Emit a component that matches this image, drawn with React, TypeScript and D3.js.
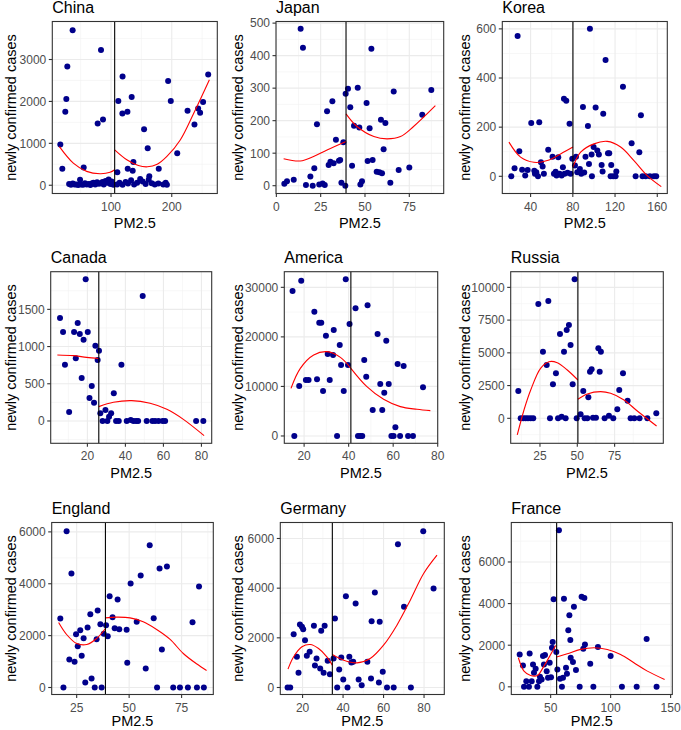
import * as d3 from "d3";

type Pt = [number, number];

const FONT = "'Liberation Sans', Arial, Helvetica, sans-serif";

// China
const chinaPoints: Pt[] = [
  [36.8, 3700], [83.5, 3228], [28, 2833], [26.4, 2060], [24.7, 1752], [16.5, 971], [19.8, 395],
  [78, 1476], [86.8, 1570], [55, 426],
  [31, 30], [34, 10], [37, 40], [40, 15], [43, 20], [46, 5], [49, 130], [51, 20], [54, 10], [57, 45],
  [60, 15], [63, 30], [66, 5], [68, 40], [71, 60], [74, 20], [77, 70], [80, 35], [83, 50], [86, 80],
  [88, 20], [91, 100], [94, 60], [96, 140], [99, 30], [101, 90], [104, 10],
  [110.4, 308], [112, 2013], [119, 2597], [118.7, 1713], [127, 1752], [134, 2107], [136.8, 552],
  [127.5, 395], [135.7, 347], [154.4, 1334], [160.4, 884], [163, 213], [178.6, 395], [194, 2486],
  [198.4, 2013], [209, 766], [226, 1776], [237.4, 1452], [243.4, 1831], [246.7, 1728], [251.6, 1989],
  [260, 2644],
  [110, 20], [114, 60], [119, 10], [124, 80], [128, 40], [133, 120], [138, 20], [143, 60], [148, 150],
  [152, 90], [157, 30], [162, 130], [167, 50], [172, 15], [178, 40], [186, 20], [190, 60], [192, 10],
];
const chinaFitLow: Pt[] = [[15, 923], [37.9, 529], [59.9, 331], [81.9, 276], [98.4, 308], [106, 371]];
const chinaFitHigh: Pt[] = [
  [106, 845], [126, 608], [145, 470], [160, 440], [176, 500], [192, 687], [214, 1081], [236, 1713], [262, 2518],
];
const chinaCut = 106;
const chinaXTicks = [100, 200];
const chinaYTicks = [0, 1000, 2000, 3000];

// Japan
const japanPoints: Pt[] = [
  [4.5, 6], [6, 14], [9.8, 18], [13.7, 483], [15, 424], [16.7, 2], [19.2, 28], [20.5, 0], [21.4, 54],
  [22.9, 189], [24.2, 4], [26.1, 7], [27.3, 2], [28.6, 229], [29.5, 64], [30.5, 74], [31.6, 260],
  [32.3, 69], [33.6, 141], [35.3, 77], [36, 79], [36.7, 9], [37.8, 134], [39.1, 283], [38.9, 0],
  [40.4, 298], [41.7, 241], [42.7, 61], [43.8, 184], [45.9, 301], [46.8, 179], [47.4, 4], [48.3, 14],
  [50.9, 254], [51.5, 76], [52.6, 177], [53.6, 421], [54.3, 79], [56.6, 43], [58.1, 41], [59, 203],
  [59.6, 38], [60.5, 112], [61.5, 193], [64.3, 9], [66.2, 290], [69, 48], [75, 56], [82.3, 218], [87.4, 294],
];
const japanFitLow: Pt[] = [[4.1, 83], [13.5, 76], [21, 90], [28.6, 110], [39.3, 136]];
const japanFitHigh: Pt[] = [[39.3, 221], [45.5, 182], [55, 151], [62.4, 144], [70, 151], [77.4, 182], [89.7, 246]];
const japanCut = 39.3;
const japanXTicks = [0, 25, 50, 75];
const japanYTicks = [0, 100, 200, 300, 400, 500];

// Korea
const koreaPoints: Pt[] = [
  [27.7, 571], [21.7, 0], [24.8, 33], [29.3, 102], [32, 27], [34.9, 3], [37.2, 26], [40.6, 217],
  [43.5, 23], [44.1, 10], [45.4, 16], [47, 0], [48.2, 220], [49.8, 57], [51.4, 40], [52.6, 10],
  [56.7, 108], [60.8, 80], [62.1, 10], [63.7, 19], [64.6, 3], [66.2, 78], [67.5, 10], [69.4, 3],
  [70.6, 37], [71.6, 316], [73.8, 307], [72.2, 10], [75, 14], [76.9, 214], [77.9, 10], [79.5, 71],
  [82, 44], [83, 80], [84.2, 16], [86.7, 30], [88, 10], [89.6, 282], [90.8, 15], [92, 80], [94.3, 205],
  [95.3, 50], [96.2, 600], [97.8, 89], [98.1, 0], [99.7, 119], [101.6, 280], [103.2, 105], [104.7, 89],
  [107.3, 46], [108.2, 20], [108.8, 255], [111, 473], [113.3, 94], [114.5, 94], [115.8, 0], [116.4, 46],
  [118.3, 0], [120.5, 0], [121.2, 20], [127.5, 364], [135.7, 135], [139.5, 0], [143, 98], [144.5, 248],
  [146, 0], [149, 0], [153, 0], [156.8, 0], [159, 0],
];
const koreaFitLow: Pt[] = [[19.5, 139], [30.5, 78], [43.2, 57], [55.8, 64], [68.4, 91], [80.1, 119]];
const koreaFitHigh: Pt[] = [
  [80.1, 37], [87.4, 98], [100, 132], [112.6, 142], [125.3, 119], [137.9, 64], [150.5, 3], [163.8, -42],
];
const koreaCut = 80.1;
const koreaXTicks = [40, 80, 120, 160];
const koreaYTicks = [0, 200, 400, 600];

// Canada
const canadaPoints: Pt[] = [
  [5.6, 1384], [7.2, 1196], [8.2, 757], [10.4, 121], [13, 1196], [13.9, 842], [14.9, 1317], [16, 1169],
  [17, 578], [18, 1093], [19.1, 1903], [20.2, 1196], [21.1, 309], [22.3, 470], [23.5, 246], [24.2, 1012],
  [25.4, 819], [26.1, 945], [26.8, 103], [28, 0], [29.5, 148], [30.5, 0], [31.4, 58], [32.5, 103],
  [33.9, 372], [35.1, 0], [36.5, 0], [37.9, 757], [40.7, 0], [42.8, 13], [44.2, 0], [45.6, 0], [46.7, 0],
  [49.1, 1679], [51.2, 0], [54.2, 0], [55.6, 0], [57.4, 0], [59.6, 0], [60.9, 0], [77.2, 0], [81, 0],
];
const canadaFitLow: Pt[] = [[4.2, 887], [12.6, 878], [19.6, 855], [26, 840]];
const canadaFitHigh: Pt[] = [[26, 193], [33.7, 251], [43.3, 273], [53, 237], [61.8, 157], [70.5, 22], [81.4, -197]];
const canadaCut = 26;
const canadaXTicks = [20, 40, 60, 80];
const canadaYTicks = [0, 500, 1000, 1500];

// America
const americaPoints: Pt[] = [
  [14.8, 29254], [15.6, 0], [17.8, 10087], [18.7, 31338], [20.8, 11298], [22, 11298], [24.6, 25084],
  [25.8, 11432], [26.8, 22865], [27.7, 22865], [28.5, 9079], [29.8, 20242], [30.6, 16543], [31.5, 11298],
  [33, 16342], [33.3, 21385], [34.8, 0], [36, 18359], [36.6, 14324], [37.8, 9079], [38.7, 31607],
  [39.7, 14324], [40.4, 22596], [43.1, 25757], [44.2, 0], [45.2, 0], [46.1, 0], [47, 15333], [47.9, 11970],
  [48.5, 26362], [50.8, 5245], [53, 20578], [54.2, 10491], [55.1, 5245], [56, 8742], [56.9, 19233],
  [58, 10491], [59.2, 0], [60.2, 0], [61, 1748], [62, 14526], [63.1, 0], [64.7, 14122], [66.7, 0],
  [68.9, 0], [73.4, 9818],
];
const americaFitLow: Pt[] = [[14.1, 9617], [18.3, 13652], [24.3, 16342], [30.3, 17014], [36.3, 15871], [41, 13652]];
const americaFitHigh: Pt[] = [[41, 13652], [48.2, 9953], [55.7, 7398], [63.2, 5918], [70.7, 5380], [76.7, 5111]];
const americaCut = 41;
const americaXTicks = [20, 40, 60, 80];
const americaYTicks = [0, 10000, 20000, 30000];

// Russia
const russiaPoints: Pt[] = [
  [10.5, 2087], [12.1, 0], [13.8, 0], [15.4, 0], [17, 0], [18.8, 0], [20.5, 0], [23.9, 8728], [27, 5089],
  [29.5, 4071], [30.6, 8957], [31.7, 0], [33.7, 2595], [35.7, 3435], [37.1, 0], [38.4, 6438], [39.5, 127],
  [41.1, 5089], [42.2, 0], [42.9, 6743], [44.4, 7125], [45.5, 5598], [46.9, 2595], [48.2, 10611],
  [49.6, 0], [52.2, 305], [54, 2087], [54.9, 0], [56.7, 0], [57.4, 1603], [58.5, 3562], [59.6, 3740],
  [60.5, 51], [62.5, 51], [64.1, 5344], [65, 3562], [65.8, 5089], [68.3, 0], [71.2, 204], [74.1, 0],
  [76.8, 687], [78.1, 2163], [80.6, 3435], [83.7, 1349], [85.7, 0], [88.2, 0], [91.7, 0], [96.9, 0],
  [102.9, 382],
];
const russiaFitLow: Pt[] = [[9.8, -1272], [14.3, 636], [18.8, 2163], [25.4, 3817], [31, 4326], [36.6, 4249], [43.3, 3690], [50.4, 2926]];
const russiaFitHigh: Pt[] = [[50.4, 1450], [56.7, 1858], [65.6, 2036], [72.3, 1908], [81.3, 1400], [90.2, 560], [103.1, -585]];
const russiaCut = 50.4;
const russiaXTicks = [25, 50, 75];
const russiaYTicks = [0, 2500, 5000, 7500, 10000];

// England
const englandPoints: Pt[] = [
  [17.2, 2661], [18.7, 0], [20.2, 6028], [21.5, 1080], [22.5, 4396], [24, 990], [24.7, 2057], [25.5, 1594],
  [26.7, 2211], [27.4, 1221], [28.3, 1902], [29.1, 193], [30.2, 2314], [31.5, 2828], [32.1, 347], [33.6, 0],
  [34.5, 1864], [35, 2969], [36.3, 2442], [36.9, 0], [37.9, 2069], [39, 2404], [39.8, 1979], [40.7, 3522],
  [42.1, 2712], [43.1, 2288], [44.5, 3393], [45.3, 2249], [48.8, 2224], [49.1, 951], [50.7, 4010],
  [53.6, 2532], [55.5, 4319], [57.9, 733], [59.8, 5488], [61.7, 2673], [63.3, 0], [64.5, 4589], [65.6, 1465],
  [68, 4666], [71, 0], [74.2, 0], [78, 0], [80.2, 2519], [82.3, 0], [83.3, 3895], [85.6, 0],
];
const englandFitLow: Pt[] = [[16.4, 2506], [20.2, 2044], [25, 1697], [29.8, 1658], [34.5, 1889], [38.7, 2275]];
const englandFitHigh: Pt[] = [
  [38.7, 2686], [44, 2712], [50.4, 2686], [56.7, 2532], [63.1, 2237], [69.4, 1864], [75.8, 1311], [82.1, 913], [86.9, 656],
];
const englandCut = 38.7;
const englandXTicks = [25, 50, 75];
const englandYTicks = [0, 2000, 4000, 6000];

// Germany
const germanyPoints: Pt[] = [
  [12.6, 0], [13.9, 0], [15.6, 2148], [17.2, 1235], [18, 591], [18.7, 2537], [19.7, 2443], [20.3, 2349],
  [21.2, 1906], [22.1, 1275], [23.5, 1436], [25.6, 2483], [26.1, 886], [26.9, 1168], [28.7, 765],
  [29.2, 2282], [30.4, 591], [30.9, 2483], [32.4, 1074], [33.5, 537], [35.3, 1168], [36, 2779], [37.1, 0],
  [38.1, 725], [39.1, 1208], [40.1, 322], [41.4, 3678], [42.2, 0], [43.1, 1235], [44.1, 1007], [45, 1034],
  [46.2, 3383], [47.7, 322], [49.2, 94], [52, 1034], [53.8, 362], [54.1, 2671], [55.7, 3826], [57.7, 201],
  [58.1, 2644], [59.6, 631], [61.7, 0], [65, 0], [67.1, 5772], [70.1, 3248], [73.5, 0], [79.6, 6295],
  [84.7, 3987],
];
const germanyFitLow: Pt[] = [[12.8, 738], [15.6, 1235], [19.7, 1638], [23.8, 1732], [27.9, 1570], [32, 1235], [34.7, 900]];
const germanyFitHigh: Pt[] = [
  [34.7, 1329], [40.3, 1101], [46.9, 993], [53.4, 1168], [60, 1705], [66.6, 2510], [73.2, 3517], [79.8, 4591], [86.4, 5329],
];
const germanyCut = 34.7;
const germanyXTicks = [20, 40, 60, 80];
const germanyYTicks = [0, 2000, 4000, 6000];

// France
const francePoints: Pt[] = [
  [24.2, 1557], [26.9, 1027], [27.8, 0], [29.7, 273], [31.9, 0], [32.5, 1605], [34.2, 273], [35.3, 1075],
  [36.1, 674], [37.5, 867], [38.9, 0], [40.3, 273], [41.1, 482], [42.5, 353], [43.6, 1477], [44.4, 1075],
  [45.3, 1525], [46.7, 754], [47.8, 433], [49.2, 1156], [50.3, 466], [51.1, 1878], [51.7, 2151], [52.5, 4205],
  [54.7, 1669], [55.6, 835], [56.9, 7528], [57.8, 385], [59.4, 0], [60.3, 433], [61.1, 4237], [62.8, 915],
  [63.6, 626], [64.7, 2713], [65.6, 3435], [66.4, 2247], [66.7, 1396], [68.6, 1188], [69.4, 3852], [71.1, 803],
  [74.2, 0], [75.8, 4334], [77.2, 1830], [78.1, 4270], [78.6, 2038], [83, 1108], [85.6, 0], [89.4, 1910],
  [100, 1477], [109.4, 0], [121.7, 0], [130, 2295], [138.3, 0],
];
const franceFitLow: Pt[] = [[23.1, 1396], [27.8, 754], [33.3, 546], [38.9, 546], [44.4, 995], [50, 1557], [54.2, 1990]];
const franceFitHigh: Pt[] = [
  [55, 1429], [63.9, 1589], [75, 1798], [86.1, 1878], [97.2, 1798], [108.3, 1557], [119.4, 1156], [130.6, 754], [145, 353],
];
const franceCut = 55;
const franceXTicks = [50, 100, 150];
const franceYTicks = [0, 2000, 4000, 6000];

type Frame = { left: number; right: number; top: number; bottom: number; cellX: number };

const row1 = { top: 21.5, bottom: 193.5 };
const row2 = { top: 271.7, bottom: 443.3 };
const row3 = { top: 522.5, bottom: 694.5 };

const panels = [
  { name: "China", points: chinaPoints, fits: [chinaFitLow, chinaFitHigh], cut: chinaCut, xTicks: chinaXTicks, yTicks: chinaYTicks,
    xDomain: [3.3, 275], yDomain: [-197, 3907], frame: { left: 52.3, right: 217.3, ...row1, cellX: 0 } },
  { name: "Japan", points: japanPoints, fits: [japanFitLow, japanFitHigh], cut: japanCut, xTicks: japanXTicks, yTicks: japanYTicks,
    xDomain: [-0.2, 94.4], yDomain: [-24, 505], frame: { left: 276, right: 443.7, ...row1, cellX: 227 } },
  { name: "Korea", points: koreaPoints, fits: [koreaFitLow, koreaFitHigh], cut: koreaCut, xTicks: koreaXTicks, yTicks: koreaYTicks,
    xDomain: [13.2, 169.5], yDomain: [-70, 630], frame: { left: 502.3, right: 667.3, ...row1, cellX: 454 } },
  { name: "Canada", points: canadaPoints, fits: [canadaFitLow, canadaFitHigh], cut: canadaCut, xTicks: canadaXTicks, yTicks: canadaYTicks,
    xDomain: [0.7, 85.4], yDomain: [-300, 2006], frame: { left: 50.7, right: 211.7, ...row2, cellX: 0 } },
  { name: "America", points: americaPoints, fits: [americaFitLow, americaFitHigh], cut: americaCut, xTicks: americaXTicks, yTicks: americaYTicks,
    xDomain: [11.1, 80], yDomain: [-1479, 33154], frame: { left: 284.3, right: 437.7, ...row2, cellX: 227 } },
  { name: "Russia", points: russiaPoints, fits: [russiaFitLow, russiaFitHigh], cut: russiaCut, xTicks: russiaXTicks, yTicks: russiaYTicks,
    xDomain: [5.4, 107.6], yDomain: [-1908, 11196], frame: { left: 510.7, right: 663.3, ...row2, cellX: 454 } },
  { name: "England", points: englandPoints, fits: [englandFitLow, englandFitHigh], cut: englandCut, xTicks: englandXTicks, yTicks: englandYTicks,
    xDomain: [13.1, 90.1], yDomain: [-270, 6362], frame: { left: 51.7, right: 213.3, ...row3, cellX: 0 } },
  { name: "Germany", points: germanyPoints, fits: [germanyFitLow, germanyFitHigh], cut: germanyCut, xTicks: germanyXTicks, yTicks: germanyYTicks,
    xDomain: [9, 90], yDomain: [-282, 6644], frame: { left: 280.3, right: 444.3, ...row3, cellX: 227 } },
  { name: "France", points: francePoints, fits: [franceFitLow, franceFitHigh], cut: franceCut, xTicks: franceXTicks, yTicks: franceYTicks,
    xDomain: [17.2, 151.4], yDomain: [-369, 7897], frame: { left: 511.3, right: 672.3, ...row3, cellX: 454 } },
];

// midpoints between major breaks, like ggplot's minor grid
function minorBreaks(ticks: number[], domain: number[]) {
  const step = ticks[1] - ticks[0];
  const all = [ticks[0] - step, ...ticks, ticks[ticks.length - 1] + step];
  const out: number[] = [];
  for (let i = 0; i < all.length - 1; i++) {
    const m = (all[i] + all[i + 1]) / 2;
    if (m > domain[0] && m < domain[1]) out.push(m);
  }
  return out;
}

function Panel({ p }: { p: (typeof panels)[number] }) {
  const f: Frame = p.frame;
  const x = d3.scaleLinear().domain(p.xDomain).range([f.left, f.right]);
  const y = d3.scaleLinear().domain(p.yDomain).range([f.bottom, f.top]);
  const fitLine = d3
    .line<Pt>()
    .x((d) => x(d[0]))
    .y((d) => y(d[1]))
    .curve(d3.curveCatmullRom.alpha(0.5));
  const xMinor = minorBreaks(p.xTicks, p.xDomain);
  const yMinor = minorBreaks(p.yTicks, p.yDomain);
  const w = f.right - f.left;
  const h = f.bottom - f.top;
  // the bottom row's axis title sits right on the page edge
  const xTitleY = Math.min(f.bottom + 34.5, 726);

  return (
    <g>
      <rect x={f.left} y={f.top} width={w} height={h} fill="#ffffff" />
      {yMinor.map((v) => (
        <line key={`ym${v}`} x1={f.left} x2={f.right} y1={y(v)} y2={y(v)} stroke="#F2F2F2" strokeWidth={0.6} />
      ))}
      {xMinor.map((v) => (
        <line key={`xm${v}`} x1={x(v)} x2={x(v)} y1={f.top} y2={f.bottom} stroke="#F2F2F2" strokeWidth={0.6} />
      ))}
      {p.yTicks.map((v) => (
        <line key={`yg${v}`} x1={f.left} x2={f.right} y1={y(v)} y2={y(v)} stroke="#EBEBEB" strokeWidth={1.1} />
      ))}
      {p.xTicks.map((v) => (
        <line key={`xg${v}`} x1={x(v)} x2={x(v)} y1={f.top} y2={f.bottom} stroke="#EBEBEB" strokeWidth={1.1} />
      ))}

      {p.points.map((d, i) => (
        <circle key={`pt${i}`} cx={x(d[0])} cy={y(d[1])} r={3} fill="#00008B" />
      ))}

      {p.fits.map((seg, i) => (
        <path key={`fit${i}`} d={fitLine(seg) ?? ""} fill="none" stroke="#FF0000" strokeWidth={1.1} />
      ))}

      <line x1={x(p.cut)} x2={x(p.cut)} y1={f.top} y2={f.bottom} stroke="#000000" strokeWidth={1.1} />

      <rect x={f.left} y={f.top} width={w} height={h} fill="none" stroke="#333333" strokeWidth={1.1} />

      {p.yTicks.map((v) => (
        <g key={`yt${v}`}>
          <line x1={f.left - 3.5} x2={f.left} y1={y(v)} y2={y(v)} stroke="#333333" strokeWidth={1.1} />
          <text x={f.left - 6} y={y(v)} dy="0.36em" textAnchor="end" fontSize={12} fill="#4D4D4D" fontFamily={FONT}>
            {v}
          </text>
        </g>
      ))}
      {p.xTicks.map((v) => (
        <g key={`xt${v}`}>
          <line x1={x(v)} x2={x(v)} y1={f.bottom} y2={f.bottom + 3.5} stroke="#333333" strokeWidth={1.1} />
          <text x={x(v)} y={f.bottom + 17} textAnchor="middle" fontSize={12} fill="#4D4D4D" fontFamily={FONT}>
            {v}
          </text>
        </g>
      ))}

      <text x={f.left} y={f.top - 9} fontSize={16} fill="#000000" fontFamily={FONT}>
        {p.name}
      </text>
      <text x={(f.left + f.right) / 2} y={xTitleY} textAnchor="middle" fontSize={14.5} fill="#000000" fontFamily={FONT}>
        PM2.5
      </text>
      <text
        transform={`translate(${f.cellX + 11}, ${(f.top + f.bottom) / 2}) rotate(-90)`}
        dy="0.36em"
        textAnchor="middle"
        fontSize={14.5}
        fill="#000000"
        fontFamily={FONT}
      >
        newly confirmed cases
      </text>
    </g>
  );
}

export default function App() {
  return (
    <svg
      width={681}
      height={730}
      style={{ position: "absolute", left: 0, top: 0, background: "#ffffff" }}
    >
      <rect width={681} height={730} fill="#ffffff" />
      {panels.map((p) => (
        <Panel key={p.name} p={p} />
      ))}
    </svg>
  );
}
